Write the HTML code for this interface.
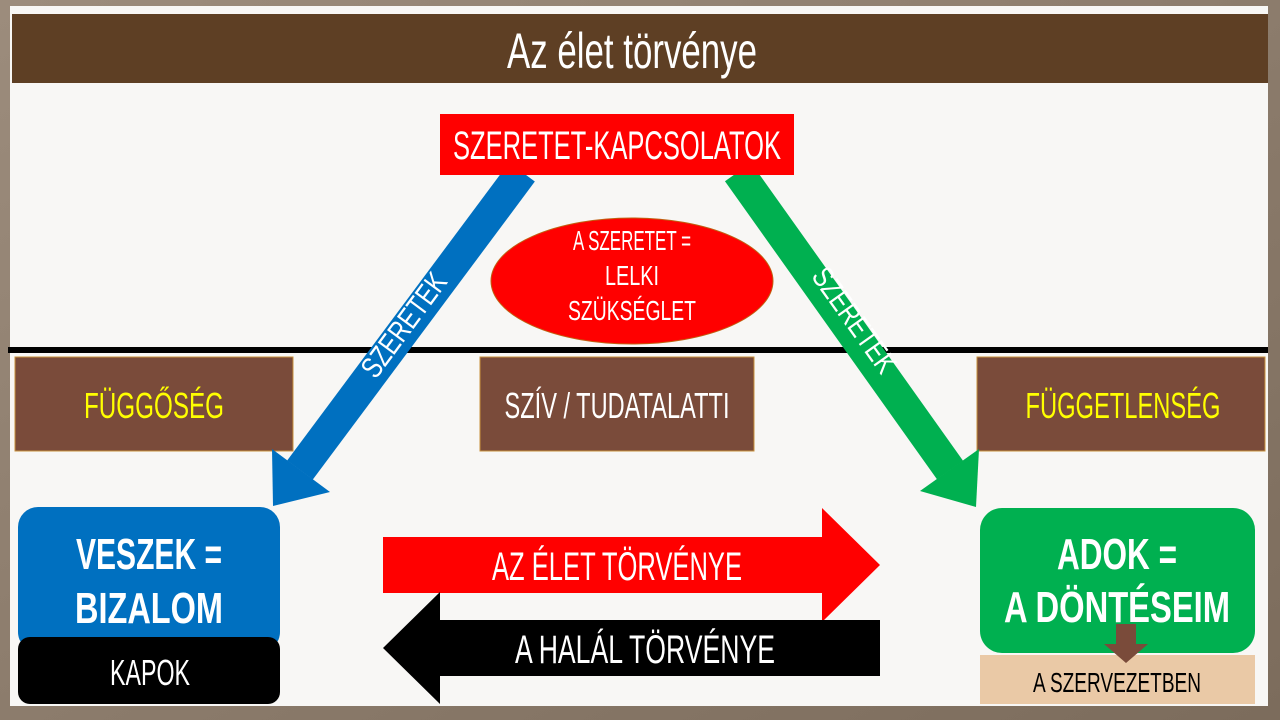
<!DOCTYPE html>
<html><head><meta charset="utf-8"><style>
html,body{margin:0;padding:0;width:1280px;height:720px;overflow:hidden;background:#8a7a6a;}
svg{display:block}
text{font-family:"Liberation Sans Narrow","Liberation Sans",sans-serif;}
</style></head><body>
<svg width="1280" height="720" viewBox="0 0 1280 720">
<defs>
<linearGradient id="bg" x1="0" y1="0" x2="1" y2="1"><stop offset="0" stop-color="#9c8c7c"/><stop offset="1" stop-color="#7c6c5c"/></linearGradient>
</defs>
<rect width="1280" height="720" fill="url(#bg)"/>
<rect x="10" y="6" width="1258" height="700" fill="#f8f7f5"/>
<rect x="12" y="14" width="1256" height="69" fill="#5e3f24"/>
<text x="632" y="68" font-size="50" fill="#fff" text-anchor="middle" textLength="250" lengthAdjust="spacingAndGlyphs">Az élet törvénye</text>

<rect x="8" y="347" width="1260" height="6" fill="#000"/>

<rect x="15" y="357" width="278" height="94" fill="#7a4b3a" stroke="#c8903c" stroke-width="1"/>
<text x="154" y="418" font-size="36" fill="#ffff00" text-anchor="middle" textLength="140" lengthAdjust="spacingAndGlyphs">FÜGGŐSÉG</text>
<rect x="480" y="357" width="274" height="94" fill="#7a4b3a" stroke="#c8903c" stroke-width="1"/>
<text x="617" y="418" font-size="36" fill="#fff" text-anchor="middle" textLength="225" lengthAdjust="spacingAndGlyphs">SZÍV / TUDATALATTI</text>
<rect x="977" y="357" width="288" height="94" fill="#7a4b3a" stroke="#c8903c" stroke-width="1"/>
<text x="1123" y="418" font-size="36" fill="#ffff00" text-anchor="middle" textLength="195" lengthAdjust="spacingAndGlyphs">FÜGGETLENSÉG</text>

<line x1="522" y1="172" x2="300" y2="470" stroke="#0070c0" stroke-width="32"/>
<polygon points="273,506 330,492 272,449" fill="#0070c0"/>
<text transform="translate(412,331) rotate(-53.5)" font-size="30" fill="#fff" text-anchor="middle" textLength="122" lengthAdjust="spacingAndGlyphs">SZERETEK</text>
<line x1="738" y1="172" x2="950" y2="470" stroke="#00b050" stroke-width="32"/>
<polygon points="976,507 979,449 920,491" fill="#00b050"/>
<text transform="translate(846,326) rotate(54.5)" font-size="30" fill="#fff" text-anchor="middle" textLength="122" lengthAdjust="spacingAndGlyphs">SZERETEK</text>

<rect x="440" y="114" width="354" height="61" fill="#ff0000"/>
<text x="617" y="159" font-size="40" fill="#fff" text-anchor="middle" textLength="328" lengthAdjust="spacingAndGlyphs">SZERETET-KAPCSOLATOK</text>

<ellipse cx="632" cy="281" rx="141" ry="63" fill="#ff0000" stroke="#c06010" stroke-width="1"/>
<text x="632" y="250" font-size="28" fill="#fff" text-anchor="middle" textLength="118" lengthAdjust="spacingAndGlyphs">A  SZERETET =</text>
<text x="632" y="285" font-size="28" fill="#fff" text-anchor="middle" textLength="54" lengthAdjust="spacingAndGlyphs">LELKI</text>
<text x="632" y="320" font-size="28" fill="#fff" text-anchor="middle" textLength="128" lengthAdjust="spacingAndGlyphs">SZÜKSÉGLET</text>

<rect x="18" y="507" width="262" height="145" rx="20" fill="#0070c0"/>
<text x="149" y="569" font-size="44" font-weight="bold" fill="#fff" text-anchor="middle" textLength="146" lengthAdjust="spacingAndGlyphs">VESZEK =</text>
<text x="149" y="623" font-size="44" font-weight="bold" fill="#fff" text-anchor="middle" textLength="148" lengthAdjust="spacingAndGlyphs">BIZALOM</text>
<rect x="18" y="637" width="262" height="67" rx="12" fill="#000"/>
<text x="150" y="685" font-size="36" fill="#fff" text-anchor="middle" textLength="80" lengthAdjust="spacingAndGlyphs">KAPOK</text>

<polygon points="383,537 822,537 822,508 880,565 822,622 822,593 383,593" fill="#ff0000"/>
<text x="617" y="580" font-size="40" fill="#fff" text-anchor="middle" textLength="250" lengthAdjust="spacingAndGlyphs">AZ ÉLET TÖRVÉNYE</text>
<polygon points="880,620 440,620 440,592 383,648 440,704 440,676 880,676" fill="#000"/>
<text x="645" y="663" font-size="40" fill="#fff" text-anchor="middle" textLength="260" lengthAdjust="spacingAndGlyphs">A HALÁL TÖRVÉNYE</text>

<rect x="980" y="508" width="275" height="145" rx="22" fill="#00b050"/>
<text x="1117" y="569" font-size="44" font-weight="bold" fill="#fff" text-anchor="middle" textLength="120" lengthAdjust="spacingAndGlyphs">ADOK =</text>
<text x="1117" y="622" font-size="44" font-weight="bold" fill="#fff" text-anchor="middle" textLength="226" lengthAdjust="spacingAndGlyphs">A DÖNTÉSEIM</text>
<rect x="980" y="655" width="275" height="49" fill="#eac9a6"/>
<polygon points="1116,624 1136,624 1136,644 1148,644 1126,663 1104,644 1116,644" fill="#7a4b3a"/>
<text x="1117" y="692" font-size="28" fill="#000" text-anchor="middle" textLength="168" lengthAdjust="spacingAndGlyphs">A SZERVEZETBEN</text>
</svg>
</body></html>
